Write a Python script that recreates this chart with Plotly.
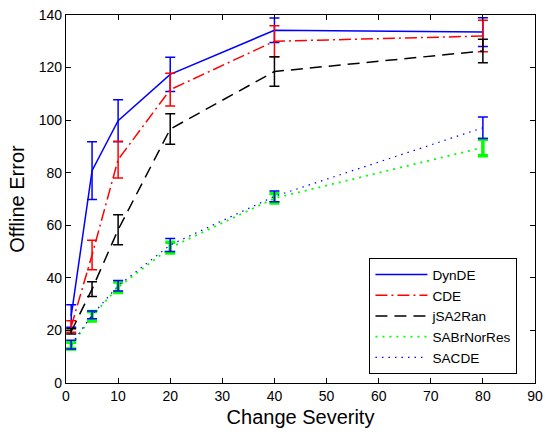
import plotly.graph_objects as go

# Change severity levels
severity = [1, 5, 10, 20, 40, 80]

# Mean offline error and error-bar half widths per algorithm
dynde_mean = [25.5, 80.8, 99.8, 117.4, 134.2, 133.5]
dynde_err = [4.3, 11.0, 8.0, 6.5, 4.7, 5.5]

cde_mean = [21.5, 48.7, 85.0, 111.6, 130.0, 132.0]
cde_err = [2.2, 5.6, 7.0, 6.2, 5.9, 6.0]

jsa_mean = [19.6, 35.7, 58.3, 96.6, 118.5, 126.3]
jsa_err = [1.0, 2.8, 5.7, 5.8, 5.6, 4.5]

sabr_mean = [14.2, 25.4, 36.4, 51.5, 70.3, 89.6]
sabr_err = [1.3, 1.8, 2.0, 2.0, 1.8, 3.1]

sacde_mean = [14.6, 25.9, 37.0, 52.5, 71.0, 97.1]
sacde_err = [1.7, 1.5, 2.0, 2.5, 2.0, 4.1]

series = [
    ("DynDE", dynde_mean, dynde_err, "#0000ff", "solid", 1.5, 1.5),
    ("CDE", cde_mean, cde_err, "#ff0000", "12px,4px,2px,4px", 1.5, 1.5),
    ("jSA2Ran", jsa_mean, jsa_err, "#000000", "12px,7px", 1.5, 1.5),
    ("SABrNorRes", sabr_mean, sabr_err, "#00ff00", "2px,5px", 1.8, 3.5),
    ("SACDE", sacde_mean, sacde_err, "#0000ff", "1.5px,5px", 1.2, 1.5),
]

fig = go.Figure()
for name, mean, err, color, dash, lw, ew in series:
    fig.add_trace(go.Scatter(
        x=severity, y=mean, name=name, mode="lines",
        line=dict(color=color, dash=dash, width=lw),
        error_y=dict(type="data", array=err, visible=True,
                     color=color, thickness=ew, width=5),
    ))

font_family = "Liberation Sans, Arial, sans-serif"
axis_common = dict(
    showline=True, linecolor="black", linewidth=1.2, mirror="ticks",
    ticks="inside", ticklen=5, tickcolor="black", tickwidth=1,
    showgrid=False, zeroline=False, ticklabeloverflow="allow",
    tickfont=dict(family=font_family, size=14, color="black"),
)

fig.update_layout(
    width=550, height=434,
    margin=dict(l=66, r=7, t=8, b=51),
    paper_bgcolor="white", plot_bgcolor="white",
    font=dict(family=font_family, color="black"),
    xaxis=dict(range=[0, 90], dtick=10, tick0=0,
               title=dict(text="Change Severity", font=dict(size=20), standoff=7),
               **axis_common),
    yaxis=dict(range=[0, 140], dtick=20, tick0=0,
               title=dict(text="Offline Error", font=dict(size=20), standoff=8),
               **axis_common),
    legend=dict(
        x=0.647, y=0.339, xanchor="left", yanchor="top",
        bgcolor="white", bordercolor="black", borderwidth=1,
        font=dict(family=font_family, size=13.6, color="black"),
        itemwidth=52,
    ),
    showlegend=True,
)

fig.write_html("out.html")
